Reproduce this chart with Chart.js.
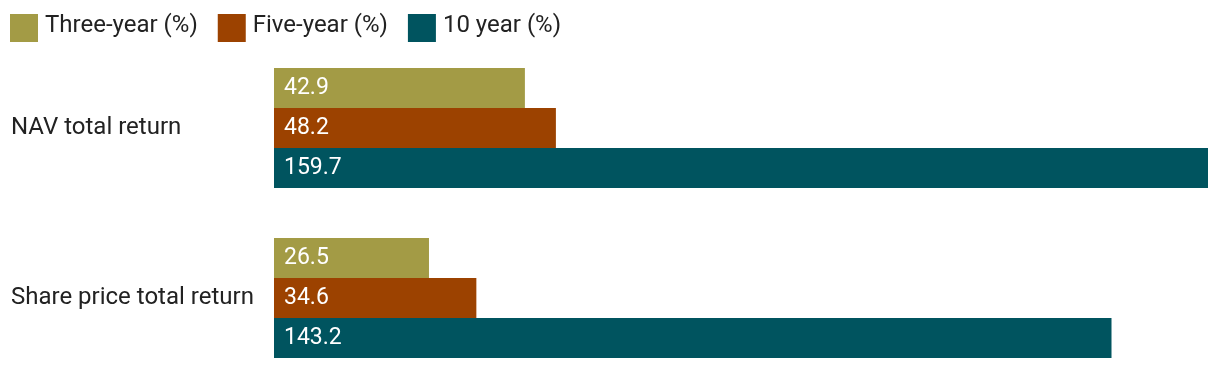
<!DOCTYPE html>
<html>
<head>
<meta charset="utf-8">
<script src="https://cdn.jsdelivr.net/npm/chart.js@4/dist/chart.umd.min.js"></script>
<style>
  html, body { margin: 0; padding: 0; background: #fff; overflow: hidden; }
  #wrap { position: relative; width: 1220px; height: 400px; }
</style>
</head>
<body>
<div id="wrap"><canvas id="chart"></canvas></div>
<script>
// Chart data
const categories = ['NAV total return', 'Share price total return'];
const seriesNames = ['Three-year (%)', 'Five-year (%)', '10 year (%)'];
const threeYear = [42.9, 26.5];
const fiveYear = [48.2, 34.6];
const tenYear = [159.7, 143.2];

const colors = ['#a39b45', '#9c4200', '#00545f'];
const FONT = 'Roboto, "Noto Sans", sans-serif';

// Legend drawn on the canvas, boxes then text in a row
const topLegend = {
    id: 'topLegend',
    afterDraw(chart) {
        const ctx = chart.ctx;
        ctx.save();
        ctx.font = '24px ' + FONT;
        ctx.textBaseline = 'middle';
        ctx.textAlign = 'left';
        let x = 10;
        chart.data.datasets.forEach(ds => {
            ctx.fillStyle = ds.backgroundColor;
            ctx.fillRect(x, 14, 28, 28);
            ctx.fillStyle = '#222';
            ctx.fillText(ds.label, x + 35, 26);
            x += 35 + ctx.measureText(ds.label).width + 20;
        });
        ctx.restore();
    }
};

// White value labels inside the bars, left aligned
const barValues = {
    id: 'barValues',
    afterDatasetsDraw(chart) {
        const ctx = chart.ctx;
        ctx.save();
        ctx.font = '23px ' + FONT;
        ctx.fillStyle = '#fff';
        ctx.textBaseline = 'middle';
        ctx.textAlign = 'left';
        chart.data.datasets.forEach((ds, i) => {
            chart.getDatasetMeta(i).data.forEach((bar, j) => {
                ctx.fillText(ds.data[j].toFixed(1), bar.base + 10, bar.y);
            });
        });
        ctx.restore();
    }
};

new Chart(document.getElementById('chart'), {
    type: 'bar',
    data: {
        labels: categories,
        datasets: [
            { label: seriesNames[0], data: threeYear, backgroundColor: colors[0] },
            { label: seriesNames[1], data: fiveYear, backgroundColor: colors[1] },
            { label: seriesNames[2], data: tenYear, backgroundColor: colors[2] }
        ]
    },
    options: {
        indexAxis: 'y',
        responsive: true,
        maintainAspectRatio: false,
        animation: false,
        datasets: {
            bar: {
                barPercentage: 1,
                categoryPercentage: 120 / 170
            }
        },
        layout: {
            padding: { top: 43, left: 11, right: 12, bottom: 17 }
        },
        scales: {
            x: {
                display: false,
                min: 0,
                max: Math.max(...tenYear)
            },
            y: {
                grid: { display: false },
                border: { display: false },
                afterFit(axis) { axis.width = 263; },
                ticks: {
                    crossAlign: 'far',
                    color: '#222',
                    padding: 0,
                    font: { family: FONT, size: 24 }
                }
            }
        },
        plugins: {
            legend: { display: false },
            tooltip: { enabled: false }
        }
    },
    plugins: [topLegend, barValues]
});
</script>
</body>
</html>
